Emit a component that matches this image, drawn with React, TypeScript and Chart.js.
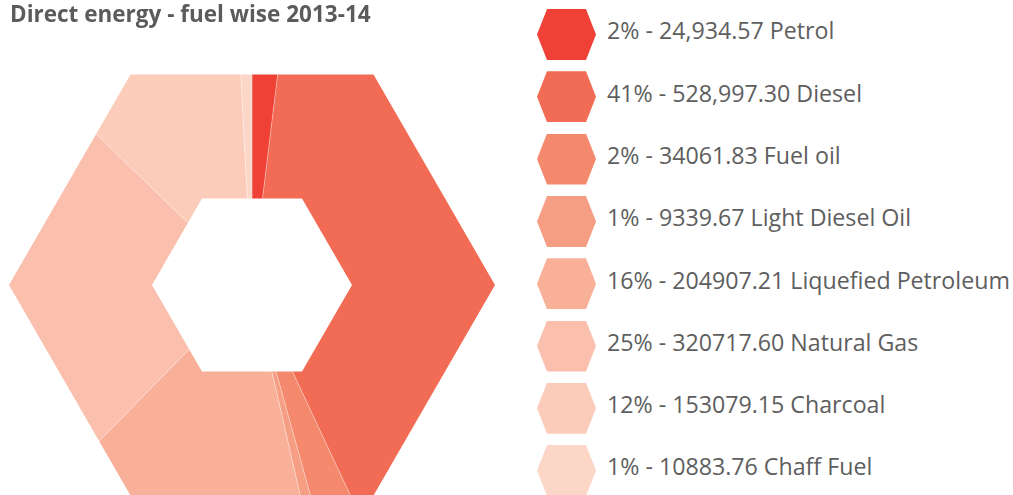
import { useEffect, useRef } from "react";
import { Chart, registerables } from "chart.js";

Chart.register(...registerables);

const title = "Direct energy - fuel wise 2013-14";
const categories = [
  "Petrol",
  "Diesel",
  "Fuel oil",
  "Light Diesel Oil",
  "Liquefied Petroleum",
  "Natural Gas",
  "Charcoal",
  "Chaff Fuel",
];
const values = [24934.57, 528997.3, 34061.83, 9339.67, 204907.21, 320717.6, 153079.15, 10883.76];
const valueLabels = [
  "24,934.57",
  "528,997.30",
  "34061.83",
  "9339.67",
  "204907.21",
  "320717.60",
  "153079.15",
  "10883.76",
];
const percentLabels = ["2%", "41%", "2%", "1%", "16%", "25%", "12%", "1%"];
const colors = [
  "#EF4136",
  "#F26B54",
  "#F4896D",
  "#F69E84",
  "#F9B099",
  "#FBC0AD",
  "#FCCCBB",
  "#FCD6C7",
];

const SIZE = 540;
const CX = 252;
const CY = 285;
const OUTER_R = 243;
const INNER_R = 100;
const ROW_H = 62.3;

function hexPath(ctx: CanvasRenderingContext2D, cx: number, cy: number, r: number) {
  for (let i = 0; i < 6; i++) {
    const a = (Math.PI / 3) * i;
    const x = cx + r * Math.cos(a);
    const y = cy + r * Math.sin(a);
    if (i === 0) ctx.moveTo(x, y);
    else ctx.lineTo(x, y);
  }
  ctx.closePath();
}

const hexClip = {
  id: "hexClip",
  beforeDatasetsDraw(chart: any) {
    const { ctx, chartArea } = chart;
    const cx = (chartArea.left + chartArea.right) / 2;
    const cy = (chartArea.top + chartArea.bottom) / 2;
    ctx.save();
    ctx.beginPath();
    hexPath(ctx, cx, cy, OUTER_R);
    hexPath(ctx, cx, cy, INNER_R);
    ctx.clip("evenodd");
  },
  afterDatasetsDraw(chart: any) {
    chart.ctx.restore();
  },
};

const FONT = "'Open Sans', Lato, sans-serif";

export default function App() {
  const canvasRef = useRef<HTMLCanvasElement | null>(null);

  useEffect(() => {
    if (!canvasRef.current) return;
    const chart = new Chart(canvasRef.current, {
      type: "doughnut",
      data: {
        labels: categories,
        datasets: [
          {
            data: values,
            backgroundColor: colors,
            borderColor: "rgba(255,255,255,0.45)",
            borderWidth: 0.6,
          },
        ],
      },
      options: {
        responsive: false,
        animation: false,
        events: [],
        cutout: 0,
        layout: { padding: 0 },
        plugins: {
          legend: { display: false },
          tooltip: { enabled: false },
          title: { display: false },
        },
      },
      plugins: [hexClip],
    });
    return () => chart.destroy();
  }, []);

  return (
    <div
      style={{
        position: "fixed",
        left: 0,
        top: 0,
        width: 1013,
        height: 495,
        overflow: "hidden",
        background: "#fff",
      }}
    >
      <canvas
        ref={canvasRef}
        width={SIZE}
        height={SIZE}
        style={{
          position: "absolute",
          left: CX - SIZE / 2,
          top: CY - SIZE / 2,
          width: SIZE,
          height: SIZE,
        }}
      />
      <div
        style={{
          position: "absolute",
          left: 10,
          top: -1,
          fontFamily: FONT,
          fontWeight: 700,
          fontSize: 22.5,
          lineHeight: "30px",
          color: "#5b5b5b",
          whiteSpace: "nowrap",
        }}
      >
        {title}
      </div>
      {categories.map((c, i) => (
        <div key={c}>
          <span
            style={{
              position: "absolute",
              left: 537,
              top: 9 + ROW_H * i,
              width: 59,
              height: 51,
              background: colors[i],
              clipPath: "polygon(17% 0, 83% 0, 100% 50%, 83% 100%, 17% 100%, 0 50%)",
            }}
          />
          <span
            style={{
              position: "absolute",
              left: 607,
              top: 15.3 + ROW_H * i,
              fontFamily: FONT,
              fontSize: 23.2,
              lineHeight: "30px",
              color: "#5e5e5e",
              whiteSpace: "nowrap",
            }}
          >
            {`${percentLabels[i]} - ${valueLabels[i]} ${c}`}
          </span>
        </div>
      ))}
    </div>
  );
}
